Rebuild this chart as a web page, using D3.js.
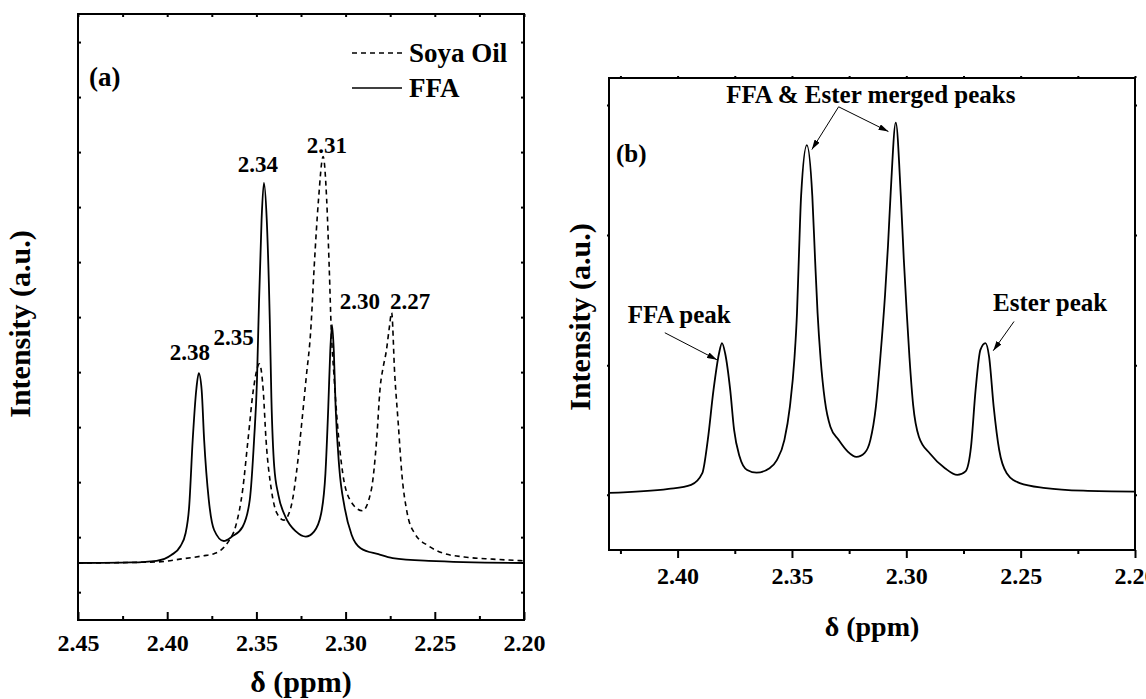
<!DOCTYPE html>
<html lang="en">
<head>
<meta charset="utf-8">
<title>1H NMR - FFA / Soya oil</title>
<script src="https://d3js.org/d3.v7.min.js"></script>
<style>
  body { margin: 0; background: #fff; }
  svg { display: block; font-family: "Liberation Serif", "Times New Roman", Times, "DejaVu Serif", serif; font-weight: bold; }
  .axis path, .axis line { stroke: #000; stroke-width: 2; }
  .axis text { font-size: 24px; font-weight: bold; font-family: "Liberation Serif", "Times New Roman", Times, "DejaVu Serif", serif; }
</style>
</head>
<body>
<script>
// spectra: [ppm, intensity (a.u.)]
var ffaA = [
  [2.450, 0.0], [2.420, 0.1], [2.406, 0.4], [2.3977, 1.45], [2.3927, 3.0], [2.3897, 5.4],
  [2.3877, 10.2], [2.3857, 22.4], [2.3837, 31.5], [2.3823, 34.5], [2.3807, 31.5], [2.3793, 22.4],
  [2.3767, 11.5], [2.3737, 6.0], [2.3683, 4.0], [2.3637, 4.8], [2.3577, 6.6], [2.3537, 11.5],
  [2.3513, 22.4], [2.3497, 33.0], [2.3488, 44.2], [2.3471, 62.4], [2.3458, 69.1], [2.3442, 62.4],
  [2.3425, 44.2], [2.3416, 30.0], [2.3400, 17.5], [2.3377, 12.4], [2.3337, 8.4], [2.3277, 5.7],
  [2.3223, 4.8], [2.3177, 5.7], [2.3137, 9.0], [2.3113, 16.3], [2.3097, 28.4], [2.3086, 38.5],
  [2.3076, 43.3], [2.3066, 38.5], [2.3056, 28.4], [2.3036, 17.5], [2.3006, 10.2], [2.2966, 5.1],
  [2.2916, 2.7], [2.2816, 1.6], [2.2736, 0.9], [2.2535, 0.4], [2.200, 0.0]
];
var soyaA = [
  [2.450, 0.0], [2.4053, 0.2], [2.3929, 0.7], [2.3800, 1.3], [2.3737, 1.7], [2.3697, 2.4],
  [2.3657, 3.9], [2.3617, 6.6], [2.3577, 13.3], [2.3547, 22.4], [2.3517, 31.5], [2.3483, 36.2],
  [2.3462, 31.5], [2.3446, 22.4], [2.3416, 13.3], [2.3386, 9.1], [2.3346, 7.8], [2.3306, 10.2],
  [2.3276, 16.3], [2.3246, 25.4], [2.3220, 34.0], [2.3196, 42.0], [2.3176, 53.9], [2.3152, 66.0],
  [2.3126, 73.9], [2.3106, 66.0], [2.3092, 53.9], [2.3080, 42.0], [2.3066, 34.5], [2.3046, 25.4],
  [2.3016, 16.3], [2.2976, 11.5], [2.2906, 9.5], [2.2856, 13.3], [2.2826, 22.4], [2.2806, 32.0],
  [2.2790, 35.5], [2.2772, 38.5], [2.2756, 42.5], [2.2742, 45.5], [2.2725, 34.5], [2.2705, 25.4],
  [2.2685, 16.3], [2.2655, 9.1], [2.2615, 5.5], [2.2535, 3.1], [2.2455, 1.8], [2.2335, 1.1],
  [2.2175, 0.7], [2.200, 0.4]
];
var ffaB = [
  [2.430, 0.0], [2.4039, 0.9], [2.3941, 1.8], [2.3892, 4.4], [2.3868, 11.8], [2.3843, 22.9],
  [2.3819, 31.0], [2.3806, 33.3], [2.3792, 31.0], [2.3770, 22.9], [2.3753, 14.0], [2.3729, 8.1],
  [2.3696, 5.1], [2.3655, 4.5], [2.3598, 5.5], [2.3566, 7.3], [2.3533, 11.8], [2.3509, 19.2],
  [2.3489, 30.0], [2.3478, 40.0], [2.3470, 52.0], [2.3460, 66.0], [2.3435, 77.3], [2.3411, 66.0],
  [2.3399, 52.0], [2.3388, 40.0], [2.3375, 30.0], [2.3356, 20.5], [2.3332, 14.7], [2.3296, 11.8],
  [2.3256, 9.2], [2.3218, 8.0], [2.3182, 8.9], [2.3157, 11.8], [2.3133, 19.2], [2.3113, 30.5],
  [2.3093, 44.0], [2.3080, 55.0], [2.3068, 67.0], [2.3046, 82.3], [2.3024, 66.0], [2.3011, 52.0],
  [2.2998, 40.0], [2.2986, 30.0], [2.2970, 19.5], [2.2945, 12.5], [2.2896, 8.7], [2.2831, 5.5],
  [2.2777, 4.0], [2.2741, 4.8], [2.2717, 10.3], [2.2697, 22.9], [2.2676, 31.8], [2.2654, 33.3],
  [2.2638, 30.3], [2.2618, 19.2], [2.2594, 9.6], [2.2561, 4.4], [2.2504, 2.2], [2.2390, 1.1],
  [2.2226, 0.5], [2.200, 0.3]
];

var xTicksA = [2.45, 2.40, 2.35, 2.30, 2.25, 2.20];
var xTicksB = [2.40, 2.35, 2.30, 2.25, 2.20];
var xMinor = [2.425, 2.375, 2.325, 2.275, 2.225];
var seriesNames = ["Soya Oil", "FFA"];

// peak labels, panel (a): text, ppm, intensity of the label baseline
var peakLabelsA = [
  ["2.38", 2.3873, 36.9], ["2.35", 2.3627, 39.6], ["2.34", 2.3492, 71.0],
  ["2.31", 2.3105, 74.6], ["2.30", 2.2920, 46.2], ["2.27", 2.2639, 46.2]
];
// annotations, panel (b): text, text ppm, text intensity
var notesB = [
  ["FFA & Ester merged peaks", 2.3155, 86.6],
  ["FFA peak", 2.3993, 37.8],
  ["Ester peak", 2.2371, 40.4]
];
// arrows, panel (b): from [ppm, I] to [ppm, I]
var arrowsB = [
  [[2.3296, 85.8], [2.3413, 76.3]],
  [[2.3296, 85.8], [2.3078, 80.3]],
  [[2.4056, 35.6], [2.3828, 29.6]],
  [[2.2529, 38.1], [2.2620, 31.6]]
];

var W = 1146, H = 699;
var svg = d3.select("body").append("svg").attr("width", W).attr("height", H);

svg.append("defs").append("marker")
  .attr("id", "arrow")
  .attr("viewBox", "0 0 10 6")
  .attr("refX", 10).attr("refY", 3)
  .attr("markerWidth", 10).attr("markerHeight", 6)
  .attr("markerUnits", "userSpaceOnUse")
  .attr("orient", "auto")
  .append("path").attr("d", "M0,0L10,3L0,6Z").attr("fill", "#000");

var line = function (x, y) {
  return d3.line().x(function (d) { return x(d[0]); }).y(function (d) { return y(d[1]); })
    .curve(d3.curveMonotoneX);
};

function noDomain(g) { g.select(".domain").remove(); }

// ---------- panel (a) ----------
var xA = d3.scaleLinear().domain([2.45, 2.20]).range([78, 524]);
var yA = d3.scaleLinear().domain([-10.36, 99.8]).range([620, 14]);
var yTicksA = d3.range(-5.3, 99, 10);
var gA = svg.append("g");

gA.append("g").attr("class", "axis")
  .attr("transform", "translate(0,620)")
  .call(d3.axisBottom(xA).tickValues(xTicksA).tickSize(-8).tickPadding(14).tickFormat(d3.format(".2f")))
  .call(noDomain);
gA.append("g").attr("class", "axis")
  .attr("transform", "translate(0,620)")
  .call(d3.axisBottom(xA).tickValues(xMinor).tickSize(-4).tickFormat(""))
  .call(noDomain);
gA.append("g").attr("class", "axis")
  .attr("transform", "translate(0,14)")
  .call(d3.axisTop(xA).tickValues(xTicksA.concat(xMinor)).tickSize(-3).tickFormat(""))
  .call(noDomain);
gA.append("g").attr("class", "axis")
  .attr("transform", "translate(78,0)")
  .call(d3.axisLeft(yA).tickValues(yTicksA).tickSize(-3).tickFormat(""))
  .call(noDomain);
gA.append("g").attr("class", "axis")
  .attr("transform", "translate(524,0)")
  .call(d3.axisRight(yA).tickValues(yTicksA).tickSize(-3).tickFormat(""))
  .call(noDomain);
gA.append("rect").attr("x", 78).attr("y", 14).attr("width", 446).attr("height", 606)
  .attr("fill", "none").attr("stroke", "#000").attr("stroke-width", 2);

gA.append("path").datum(soyaA).attr("d", line(xA, yA))
  .attr("fill", "none").attr("stroke", "#000").attr("stroke-width", 1.6).attr("stroke-dasharray", "5,4");
gA.append("path").datum(ffaA).attr("d", line(xA, yA))
  .attr("fill", "none").attr("stroke", "#000").attr("stroke-width", 1.8);

gA.selectAll(".plabel").data(peakLabelsA).enter().append("text")
  .attr("x", function (d) { return xA(d[1]); })
  .attr("y", function (d) { return yA(d[2]); })
  .attr("text-anchor", "middle").attr("font-size", 23)
  .text(function (d) { return d[0]; });

// legend
seriesNames.forEach(function (name, i) {
  var ly = 53 + i * 35;
  gA.append("line").attr("x1", 352).attr("x2", 402).attr("y1", ly).attr("y2", ly)
    .attr("stroke", "#000").attr("stroke-width", 1.6)
    .attr("stroke-dasharray", i === 0 ? "5,4" : null);
  gA.append("text").attr("x", 409).attr("y", ly + 9).attr("font-size", 27).text(name);
});
gA.append("text").attr("x", 89).attr("y", 86).attr("font-size", 27).text("(a)");

gA.append("text").attr("transform", "translate(30,324) rotate(-90)")
  .attr("text-anchor", "middle").attr("font-size", 30).text("Intensity (a.u.)");
gA.append("text").attr("x", 301).attr("y", 692)
  .attr("text-anchor", "middle").attr("font-size", 30).text("δ (ppm)");

// ---------- panel (b) ----------
var xB = d3.scaleLinear().domain([2.43, 2.20]).range([609, 1135]);
var yB = d3.scaleLinear().domain([-12.67, 92.2]).range([550, 78]);
var yTicksB = [-0.4, 28.4, 57.3, 86.2];
var gB = svg.append("g");

gB.append("g").attr("class", "axis")
  .attr("transform", "translate(0,550)")
  .call(d3.axisBottom(xB).tickValues(xTicksB).tickSize(8).tickPadding(9).tickFormat(d3.format(".2f")))
  .call(noDomain);
gB.append("g").attr("class", "axis")
  .attr("transform", "translate(0,550)")
  .call(d3.axisBottom(xB).tickValues(xMinor).tickSize(4).tickFormat(""))
  .call(noDomain);
gB.append("g").attr("class", "axis")
  .attr("transform", "translate(0,78)")
  .call(d3.axisTop(xB).tickValues(xTicksB.concat(xMinor)).tickSize(2).tickFormat(""))
  .call(noDomain);
gB.append("g").attr("class", "axis")
  .attr("transform", "translate(609,0)")
  .call(d3.axisLeft(yB).tickValues(yTicksB).tickSize(2).tickFormat(""))
  .call(noDomain);
gB.append("g").attr("class", "axis")
  .attr("transform", "translate(1135,0)")
  .call(d3.axisRight(yB).tickValues(yTicksB).tickSize(2).tickFormat(""))
  .call(noDomain);
gB.append("rect").attr("x", 609).attr("y", 78).attr("width", 526).attr("height", 472)
  .attr("fill", "none").attr("stroke", "#000").attr("stroke-width", 2);

gB.append("path").datum(ffaB).attr("d", line(xB, yB))
  .attr("fill", "none").attr("stroke", "#000").attr("stroke-width", 1.8);

gB.selectAll(".note").data(notesB).enter().append("text")
  .attr("x", function (d) { return xB(d[1]); })
  .attr("y", function (d) { return yB(d[2]); })
  .attr("text-anchor", "middle").attr("font-size", 25)
  .text(function (d) { return d[0]; });

gB.selectAll(".arrow").data(arrowsB).enter().append("line")
  .attr("x1", function (d) { return xB(d[0][0]); })
  .attr("y1", function (d) { return yB(d[0][1]); })
  .attr("x2", function (d) { return xB(d[1][0]); })
  .attr("y2", function (d) { return yB(d[1][1]); })
  .attr("stroke", "#000").attr("stroke-width", 1)
  .attr("marker-end", "url(#arrow)");

gB.append("text").attr("x", 616).attr("y", 162).attr("font-size", 25).text("(b)");
gB.append("text").attr("transform", "translate(590,317) rotate(-90)")
  .attr("text-anchor", "middle").attr("font-size", 30).text("Intensity (a.u.)");
gB.append("text").attr("x", 872).attr("y", 636)
  .attr("text-anchor", "middle").attr("font-size", 28).text("δ (ppm)");
</script>
</body>
</html>
